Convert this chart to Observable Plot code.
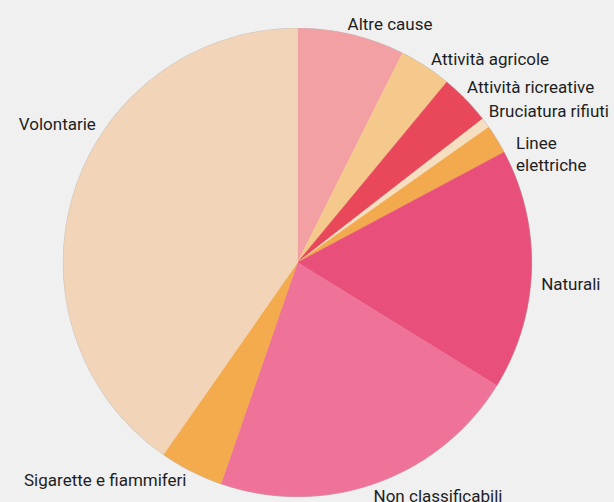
<!DOCTYPE html>
<html>
<head>
<meta charset="utf-8">
<script src="https://cdn.jsdelivr.net/npm/d3@7"></script>
<script src="https://cdn.jsdelivr.net/npm/@observablehq/plot@0.6"></script>
<style>
  html, body { margin: 0; padding: 0; background: #f0f0f0; }
  #chart svg { display: block; }
</style>
</head>
<body>
<div id="chart"></div>
<script>
// Data (percent share of fires by cause), clockwise from 12 o'clock
const categories = ["Altre cause", "Attività agricole", "Attività ricreative", "Bruciatura rifiuti", "Linee elettriche", "Naturali", "Non classificabili", "Sigarette e fiammiferi", "Volontarie"];
const values = [7.4, 3.6, 3.5, 0.7, 2.0, 16.6, 21.5, 4.4, 40.3];
const labels = ["Altre cause", "Attività agricole", "Attività ricreative", "Bruciatura rifiuti", "Linee\nelettriche", "Naturali", "Non classificabili", "Sigarette e fiammiferi", "Volontarie"];
const colors = ["#f2a0a3", "#f5c98c", "#e8485a", "#f6dfc0", "#f3a94d", "#e8507b", "#ef7298", "#f3ab4e", "#f2d4b8"];

// Layout tweaks for label angles (degrees), to avoid overlap as in the original
const labelAngleNudge = {"Altre cause": -1.5, "Attività ricreative": -2, "Bruciatura rifiuti": -2, "Linee elettriche": 5, "Naturali": 3, "Non classificabili": 1.5, "Volontarie": 17};

const arcs = d3.pie().sort(null).value(d => d)(values);

// Build wedge polygons in unit coordinates (angle 0 = top, clockwise)
const wedges = [];
arcs.forEach((a, i) => {
  const name = categories[i];
  const n = Math.max(2, Math.ceil((a.endAngle - a.startAngle) / 0.01));
  wedges.push({name, x: 0, y: 0});
  for (let k = 0; k <= n; k++) {
    const t = a.startAngle + (a.endAngle - a.startAngle) * k / n;
    wedges.push({name, x: Math.sin(t), y: Math.cos(t)});
  }
  wedges.push({name, x: 0, y: 0});
});

const outline = d3.range(0, 361).map(d => {
  const t = d * Math.PI / 180;
  return {x: Math.sin(t), y: Math.cos(t)};
});

const labelR = 1.045;
const labelData = arcs.map((a, i) => {
  const mid = (a.startAngle + a.endAngle) / 2 + (labelAngleNudge[categories[i]] || 0) * Math.PI / 180;
  return {label: labels[i], x: labelR * Math.sin(mid), y: labelR * Math.cos(mid)};
});

const R = 234, cx = 297, cy = 262;
const chart = Plot.plot({
  width: 614,
  height: 502,
  margin: 0,
  style: {background: "#f0f0f0", fontFamily: "Roboto, sans-serif", fontSize: "17px"},
  x: {domain: [-1, 1], range: [cx - R, cx + R], axis: null},
  y: {domain: [-1, 1], range: [cy + R, cy - R], axis: null},
  color: {domain: categories, range: colors},
  marks: [
    Plot.line(outline, {x: "x", y: "y", stroke: "#9a9a9a", strokeWidth: 1.2, strokeOpacity: 0.6, curve: "linear"}),
    Plot.line(wedges, {x: "x", y: "y", z: "name", fill: "name", stroke: "name", strokeWidth: 0.5, curve: "linear"}),
    Plot.text(labelData.filter(d => d.x >= 0), {x: "x", y: "y", text: "label", textAnchor: "start", lineAnchor: "middle", fill: "#1e1e1e", fontSize: 17, lineHeight: 1.3}),
    Plot.text(labelData.filter(d => d.x < 0), {x: "x", y: "y", text: "label", textAnchor: "end", lineAnchor: "middle", fill: "#1e1e1e", fontSize: 17})
  ]
});
document.getElementById("chart").appendChild(chart);
</script>
</body>
</html>
